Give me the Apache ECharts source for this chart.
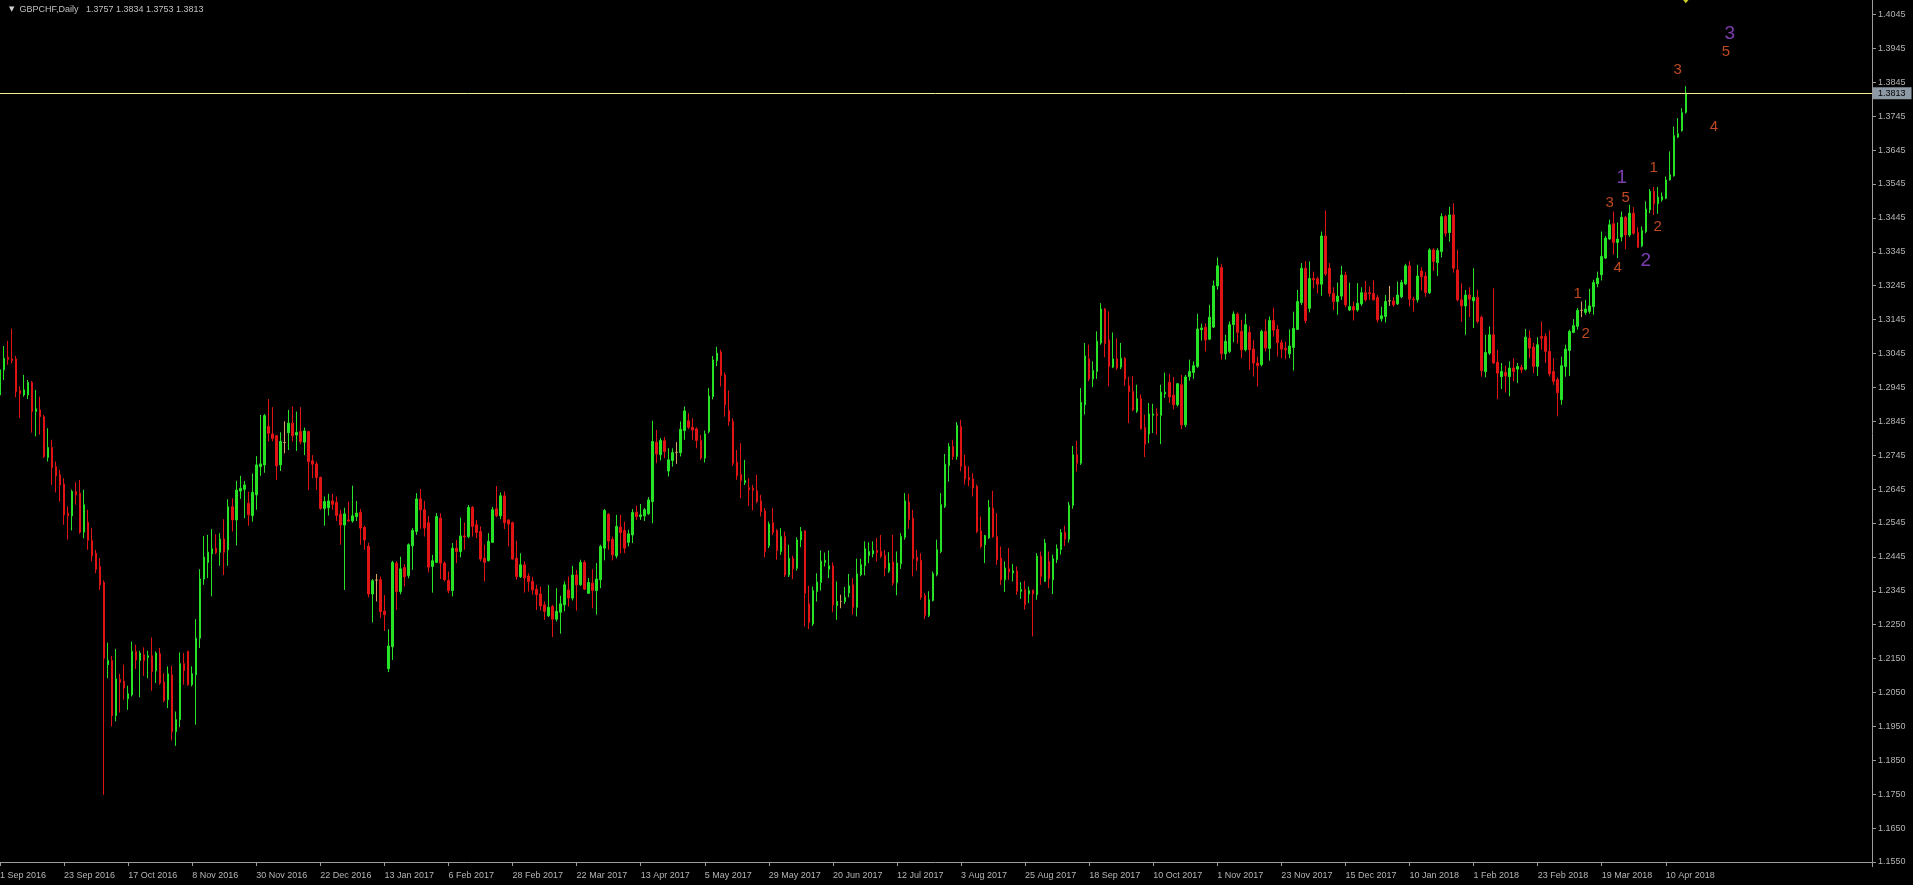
<!DOCTYPE html>
<html>
<head>
<meta charset="utf-8">
<script src="https://cdn.jsdelivr.net/npm/echarts@6/dist/echarts.min.js"></script>
<style>
html,body{margin:0;padding:0;background:#000;}
#chart{width:1913px;height:885px;}
</style>
</head>
<body>
<div id="chart"></div>
<script>
// ---------------- data ----------------
const symbolName = 'GBPCHF';
const timeframe = 'Daily';
const firstDate = '2016-09-01';
const missingDays = ['2017-12-25', '2018-01-01'];
const futureSlots = 46;
const labelEvery = 16;

const opens = [
1.2925,1.2999,1.3036,1.3031,1.3031,1.2938,1.2925,1.2925,1.2962,1.2876,
1.2881,1.2861,1.2741,1.2770,1.2714,1.2690,1.2663,1.2577,1.2569,1.2641,
1.2636,1.2521,1.2550,1.2497,1.2459,1.2420,1.2373,1.2131,1.2143,1.1981,
1.2088,1.2082,1.2031,1.2042,1.2170,1.2143,1.2160,1.2152,1.2157,1.2113,
1.2163,1.2080,1.2028,1.2101,1.1934,1.1969,1.2134,1.2170,1.2072,1.2101,
1.2209,1.2383,1.2432,1.2457,1.2474,1.2462,1.2501,1.2469,1.2596,1.2557,
1.2642,1.2647,1.2606,1.2570,1.2631,1.2714,1.2719,1.2832,1.2810,1.2805,
1.2719,1.2785,1.2814,1.2842,1.2807,1.2817,1.2786,1.2817,1.2731,1.2722,
1.2682,1.2591,1.2593,1.2613,1.2609,1.2574,1.2542,1.2557,1.2554,1.2567,
1.2579,1.2535,1.2480,1.2339,1.2380,1.2381,1.2289,1.2119,1.2184,1.2430,
1.2346,1.2417,1.2393,1.2481,1.2523,1.2619,1.2587,1.2549,1.2420,1.2432,
1.2562,1.2430,1.2379,1.2349,1.2474,1.2464,1.2510,1.2508,1.2594,1.2543,
1.2523,1.2444,1.2437,1.2491,1.2590,1.2569,1.2628,1.2557,1.2549,1.2444,
1.2390,1.2425,1.2392,1.2376,1.2353,1.2339,1.2307,1.2275,1.2302,1.2265,
1.2285,1.2307,1.2351,1.2327,1.2395,1.2366,1.2432,1.2341,1.2371,1.2349,
1.2381,1.2474,1.2574,1.2500,1.2451,1.2536,1.2526,1.2491,1.2513,1.2580,
1.2567,1.2569,1.2575,1.2611,1.2786,1.2749,1.2790,1.2701,1.2732,1.2756,
1.2755,1.2820,1.2849,1.2830,1.2825,1.2791,1.2739,1.2817,1.2920,1.3026,
1.3051,1.2984,1.2879,1.2847,1.2727,1.2690,1.2667,1.2652,1.2650,1.2643,
1.2613,1.2584,1.2481,1.2549,1.2526,1.2464,1.2508,1.2395,1.2444,1.2415,
1.2498,1.2525,1.2310,1.2251,1.2346,1.2373,1.2432,1.2412,1.2422,1.2305,
1.2317,1.2317,1.2342,1.2366,1.2300,1.2396,1.2422,1.2452,1.2457,1.2467,
1.2464,1.2453,1.2406,1.2433,1.2373,1.2428,1.2506,1.2610,1.2562,1.2447,
1.2438,1.2335,1.2276,1.2320,1.2396,1.2464,1.2597,1.2717,1.2773,1.2744,
1.2832,1.2716,1.2682,1.2678,1.2656,1.2525,1.2484,1.2504,1.2592,1.2508,
1.2445,1.2381,1.2413,1.2401,1.2407,1.2347,1.2352,1.2339,1.2350,1.2337,
1.2450,1.2376,1.2435,1.2381,1.2440,1.2470,1.2520,1.2500,1.2600,1.2749,
1.2724,1.2896,1.3031,1.2972,1.2994,1.3078,1.3178,1.3087,1.3007,1.3031,
1.3007,1.3033,1.2952,1.2935,1.2877,1.2914,1.2829,1.2810,1.2865,1.2869,
1.2865,1.2928,1.2962,1.2924,1.2896,1.2955,1.2837,1.2979,1.2991,1.3009,
1.3117,1.3124,1.3089,1.3125,1.3246,1.3300,1.3046,1.3053,1.3132,1.3163,
1.3112,1.3058,1.3109,1.3060,1.3019,1.3014,1.3112,1.3062,1.3144,1.3118,
1.3079,1.3062,1.3046,1.3065,1.3118,1.3197,1.3298,1.3180,1.3268,1.3267,
1.3251,1.3393,1.3298,1.3224,1.3200,1.3216,1.3278,1.3175,1.3185,1.3175,
1.3193,1.3226,1.3226,1.3224,1.3212,1.3149,1.3156,1.3202,1.3202,1.3193,
1.3214,1.3252,1.3305,1.3207,1.3205,1.3290,1.3275,1.3226,1.3352,1.3315,
1.3347,1.3450,1.3403,1.3455,1.3293,1.3205,1.3187,1.3219,1.3202,1.3212,
1.3154,1.2994,1.3048,1.3102,1.3021,1.2979,1.2991,1.2979,1.3004,1.3001,
1.3006,1.3001,1.3092,1.3066,1.3009,1.3097,1.3097,1.3053,1.2994,1.2970,
1.2911,1.3009,1.3056,1.3109,1.3127,1.3174,1.3168,1.3171,1.3185,1.3252,
1.3279,1.3328,1.3384,1.3429,1.3374,1.3390,1.3448,1.3396,1.3460,1.3403,
1.3364,1.3406,1.3470,1.3524,1.3488,1.3499,1.3504,1.3558,1.3570,1.3684,
1.3703,1.3757
];

const highs = [
1.3009,1.3069,1.3084,1.3120,1.3040,1.2950,1.2984,1.2969,1.2966,1.2940,
1.2920,1.2866,1.2827,1.2793,1.2729,1.2705,1.2680,1.2597,1.2646,1.2668,
1.2675,1.2646,1.2587,1.2533,1.2469,1.2445,1.2379,1.2196,1.2157,1.2177,
1.2104,1.2131,1.2069,1.2199,1.2190,1.2172,1.2182,1.2172,1.2211,1.2170,
1.2180,1.2106,1.2126,1.2128,1.1993,1.2167,1.2165,1.2172,1.2126,1.2265,
1.2412,1.2510,1.2513,1.2530,1.2515,1.2518,1.2559,1.2618,1.2621,1.2672,
1.2687,1.2672,1.2640,1.2694,1.2745,1.2866,1.2869,1.2913,1.2889,1.2807,
1.2815,1.2847,1.2881,1.2891,1.2876,1.2889,1.2829,1.2819,1.2748,1.2729,
1.2685,1.2626,1.2634,1.2634,1.2626,1.2587,1.2593,1.2611,1.2658,1.2613,
1.2589,1.2540,1.2490,1.2383,1.2398,1.2390,1.2336,1.2235,1.2437,1.2435,
1.2449,1.2427,1.2488,1.2533,1.2636,1.2648,1.2613,1.2569,1.2454,1.2577,
1.2577,1.2435,1.2405,1.2489,1.2498,1.2564,1.2549,1.2601,1.2598,1.2557,
1.2538,1.2484,1.2518,1.2595,1.2657,1.2638,1.2641,1.2559,1.2552,1.2496,
1.2459,1.2435,1.2400,1.2390,1.2366,1.2361,1.2317,1.2365,1.2307,1.2356,
1.2334,1.2376,1.2390,1.2422,1.2410,1.2440,1.2438,1.2386,1.2412,1.2430,
1.2484,1.2589,1.2577,1.2508,1.2572,1.2572,1.2552,1.2528,1.2589,1.2599,
1.2604,1.2592,1.2624,1.2849,1.2822,1.2798,1.2801,1.2768,1.2768,1.2786,
1.2847,1.2891,1.2871,1.2856,1.2830,1.2807,1.2820,1.2945,1.3040,1.3067,
1.3058,1.2991,1.2938,1.2856,1.2763,1.2783,1.2734,1.2680,1.2660,1.2690,
1.2631,1.2592,1.2552,1.2592,1.2530,1.2533,1.2523,1.2484,1.2451,1.2506,
1.2536,1.2526,1.2363,1.2361,1.2400,1.2467,1.2461,1.2467,1.2432,1.2376,
1.2337,1.2360,1.2398,1.2386,1.2443,1.2443,1.2494,1.2491,1.2494,1.2504,
1.2513,1.2469,1.2462,1.2513,1.2464,1.2518,1.2636,1.2634,1.2587,1.2469,
1.2459,1.2342,1.2347,1.2405,1.2499,1.2636,1.2751,1.2783,1.2793,1.2845,
1.2852,1.2749,1.2715,1.2695,1.2661,1.2567,1.2513,1.2616,1.2643,1.2577,
1.2479,1.2435,1.2474,1.2427,1.2420,1.2374,1.2378,1.2361,1.2352,1.2459,
1.2464,1.2501,1.2464,1.2455,1.2485,1.2530,1.2540,1.2610,1.2775,1.2790,
1.2945,1.3078,1.3073,1.3024,1.3112,1.3195,1.3181,1.3171,1.3109,1.3092,
1.3078,1.3036,1.2978,1.2981,1.2955,1.2926,1.2867,1.2901,1.2899,1.2886,
1.2955,1.2991,1.2987,1.2978,1.2960,1.2984,1.2984,1.3029,1.3024,1.3164,
1.3135,1.3136,1.3190,1.3262,1.3330,1.3310,1.3102,1.3141,1.3171,1.3168,
1.3146,1.3164,1.3127,1.3087,1.3038,1.3117,1.3148,1.3156,1.3182,1.3131,
1.3087,1.3082,1.3118,1.3170,1.3234,1.3313,1.3319,1.3318,1.3288,1.3273,
1.3406,1.3468,1.3313,1.3242,1.3256,1.3305,1.3288,1.3256,1.3200,1.3254,
1.3242,1.3261,1.3244,1.3263,1.3219,1.3185,1.3219,1.3246,1.3213,1.3259,
1.3264,1.3311,1.3319,1.3214,1.3308,1.3301,1.3288,1.3357,1.3357,1.3357,
1.3460,1.3455,1.3479,1.3489,1.3352,1.3254,1.3234,1.3242,1.3298,1.3235,
1.3158,1.3102,1.3127,1.3239,1.3058,1.3019,1.3011,1.3024,1.3033,1.3019,
1.3014,1.3119,1.3115,1.3078,1.3095,1.3141,1.3107,1.3115,1.3033,1.2977,
1.3038,1.3073,1.3117,1.3148,1.3181,1.3200,1.3205,1.3237,1.3264,1.3288,
1.3406,1.3393,1.3441,1.3465,1.3433,1.3465,1.3452,1.3485,1.3478,1.3419,
1.3421,1.3495,1.3531,1.3537,1.3537,1.3521,1.3568,1.3642,1.3715,1.3740,
1.3769,1.3834
];

const lows = [
1.2922,1.2969,1.3014,1.3018,1.2918,1.2857,1.2920,1.2913,1.2814,1.2803,
1.2808,1.2739,1.2729,1.2660,1.2638,1.2611,1.2543,1.2499,1.2526,1.2602,
1.2516,1.2503,1.2469,1.2435,1.2400,1.2351,1.1748,1.2091,1.1949,1.1964,
1.1990,1.2028,1.1998,1.2037,1.2118,1.2035,1.2098,1.2091,1.2054,1.2077,
1.2072,1.2020,1.2003,1.1908,1.1892,1.1947,1.2072,1.2069,1.2067,1.1954,
1.2180,1.2366,1.2386,1.2332,1.2456,1.2422,1.2395,1.2422,1.2523,1.2482,
1.2619,1.2562,1.2540,1.2552,1.2587,1.2687,1.2696,1.2788,1.2788,1.2675,
1.2701,1.2753,1.2763,1.2788,1.2760,1.2780,1.2748,1.2645,1.2680,1.2645,
1.2587,1.2540,1.2570,1.2587,1.2554,1.2484,1.2351,1.2552,1.2549,1.2554,
1.2484,1.2469,1.2329,1.2255,1.2317,1.2268,1.2230,1.2109,1.2145,1.2292,
1.2338,1.2361,1.2385,1.2410,1.2513,1.2531,1.2508,1.2402,1.2343,1.2430,
1.2383,1.2376,1.2341,1.2332,1.2430,1.2447,1.2469,1.2503,1.2508,1.2503,
1.2435,1.2376,1.2435,1.2489,1.2565,1.2559,1.2530,1.2479,1.2440,1.2381,
1.2386,1.2343,1.2346,1.2337,1.2292,1.2290,1.2263,1.2271,1.2212,1.2258,
1.2222,1.2288,1.2302,1.2320,1.2290,1.2363,1.2351,1.2339,1.2297,1.2278,
1.2356,1.2438,1.2469,1.2438,1.2444,1.2459,1.2459,1.2479,1.2489,1.2557,
1.2557,1.2554,1.2572,1.2547,1.2724,1.2732,1.2739,1.2685,1.2714,1.2722,
1.2744,1.2793,1.2824,1.2793,1.2768,1.2734,1.2726,1.2812,1.2912,1.3010,
1.2950,1.2861,1.2834,1.2716,1.2675,1.2621,1.2660,1.2598,1.2585,1.2606,
1.2567,1.2447,1.2474,1.2513,1.2440,1.2454,1.2389,1.2389,1.2383,1.2408,
1.2477,1.2243,1.2236,1.2245,1.2317,1.2349,1.2420,1.2386,1.2285,1.2263,
1.2297,1.2310,1.2329,1.2278,1.2273,1.2391,1.2394,1.2430,1.2447,1.2435,
1.2445,1.2391,1.2401,1.2364,1.2335,1.2413,1.2499,1.2531,1.2391,1.2407,
1.2322,1.2265,1.2271,1.2317,1.2391,1.2459,1.2592,1.2670,1.2734,1.2734,
1.2700,1.2661,1.2656,1.2626,1.2518,1.2474,1.2430,1.2501,1.2504,1.2425,
1.2366,1.2345,1.2381,1.2376,1.2337,1.2325,1.2293,1.2312,1.2214,1.2322,
1.2366,1.2376,1.2356,1.2339,1.2430,1.2455,1.2480,1.2490,1.2590,1.2700,
1.2719,1.2867,1.2965,1.2948,1.2972,1.3073,1.3036,1.2950,1.3004,1.2999,
1.3001,1.2952,1.2842,1.2877,1.2872,1.2823,1.2742,1.2783,1.2813,1.2808,
1.2780,1.2916,1.2901,1.2883,1.2891,1.2824,1.2830,1.2967,1.2972,1.3004,
1.3085,1.3053,1.3087,1.3122,1.3235,1.3029,1.3029,1.3048,1.3080,1.3076,
1.3033,1.3053,1.2999,1.2979,1.2950,1.3009,1.3053,1.3026,1.3097,1.3038,
1.3033,1.3030,1.3033,1.2997,1.3116,1.3190,1.3136,1.3168,1.3239,1.3224,
1.3217,1.3275,1.3214,1.3175,1.3161,1.3205,1.3183,1.3172,1.3144,1.3170,
1.3187,1.3200,1.3205,1.3203,1.3138,1.3141,1.3138,1.3187,1.3185,1.3190,
1.3210,1.3249,1.3185,1.3170,1.3197,1.3232,1.3214,1.3222,1.3290,1.3275,
1.3330,1.3391,1.3376,1.3285,1.3200,1.3141,1.3102,1.3154,1.3122,1.3136,
1.2979,1.2977,1.3043,1.3017,1.2913,1.2942,1.2932,1.2921,1.2965,1.2960,
1.2989,1.2997,1.3033,1.2989,1.2981,1.3058,1.3019,1.2979,1.2955,1.2862,
1.2896,1.2979,1.2981,1.3107,1.3117,1.3154,1.3161,1.3164,1.3161,1.3242,
1.3262,1.3325,1.3382,1.3338,1.3328,1.3377,1.3354,1.3390,1.3396,1.3357,
1.3360,1.3401,1.3460,1.3455,1.3458,1.3494,1.3501,1.3556,1.3568,1.3681,
1.3700,1.3753
];

const closes = [
1.2999,1.3033,1.3030,1.3026,1.2935,1.2928,1.2940,1.2962,1.2876,1.2884,
1.2861,1.2744,1.2770,1.2711,1.2687,1.2660,1.2572,1.2569,1.2641,1.2631,
1.2521,1.2602,1.2497,1.2451,1.2412,1.2366,1.2150,1.2143,1.1981,1.2089,
1.2079,1.2062,1.2045,1.2170,1.2145,1.2165,1.2143,1.2157,1.2111,1.2165,
1.2077,1.2025,1.2104,1.1934,1.1969,1.2134,1.2114,1.2072,1.2104,1.2209,
1.2383,1.2448,1.2462,1.2472,1.2461,1.2501,1.2462,1.2596,1.2557,1.2645,
1.2650,1.2660,1.2572,1.2638,1.2719,1.2722,1.2864,1.2812,1.2797,1.2716,
1.2788,1.2785,1.2842,1.2805,1.2815,1.2788,1.2819,1.2729,1.2721,1.2682,
1.2591,1.2611,1.2613,1.2603,1.2570,1.2542,1.2575,1.2554,1.2569,1.2577,
1.2533,1.2498,1.2339,1.2378,1.2380,1.2287,1.2278,1.2186,1.2432,1.2346,
1.2413,1.2390,1.2484,1.2526,1.2619,1.2587,1.2533,1.2418,1.2437,1.2567,
1.2430,1.2381,1.2349,1.2474,1.2464,1.2510,1.2507,1.2594,1.2538,1.2520,
1.2442,1.2432,1.2494,1.2587,1.2569,1.2628,1.2549,1.2545,1.2442,1.2390,
1.2425,1.2386,1.2376,1.2351,1.2337,1.2304,1.2288,1.2300,1.2265,1.2288,
1.2310,1.2366,1.2327,1.2395,1.2366,1.2432,1.2353,1.2373,1.2349,1.2383,
1.2479,1.2585,1.2495,1.2454,1.2538,1.2520,1.2474,1.2516,1.2579,1.2567,
1.2572,1.2587,1.2616,1.2788,1.2751,1.2791,1.2758,1.2734,1.2755,1.2756,
1.2824,1.2878,1.2830,1.2822,1.2791,1.2739,1.2810,1.2922,1.3028,1.3048,
1.2982,1.2896,1.2847,1.2724,1.2687,1.2673,1.2673,1.2646,1.2644,1.2611,
1.2582,1.2464,1.2545,1.2520,1.2467,1.2508,1.2395,1.2444,1.2413,1.2498,
1.2523,1.2341,1.2255,1.2349,1.2374,1.2435,1.2438,1.2422,1.2307,1.2317,
1.2317,1.2329,1.2363,1.2300,1.2398,1.2425,1.2472,1.2464,1.2467,1.2461,
1.2450,1.2415,1.2430,1.2371,1.2430,1.2508,1.2613,1.2558,1.2443,1.2437,
1.2329,1.2276,1.2322,1.2399,1.2469,1.2602,1.2721,1.2773,1.2744,1.2835,
1.2715,1.2678,1.2675,1.2651,1.2523,1.2479,1.2511,1.2594,1.2508,1.2440,
1.2381,1.2415,1.2404,1.2407,1.2347,1.2352,1.2307,1.2349,1.2339,1.2450,
1.2391,1.2489,1.2384,1.2443,1.2472,1.2520,1.2500,1.2600,1.2749,1.2724,
1.2903,1.3040,1.2972,1.2997,1.3083,1.3178,1.3076,1.3009,1.3031,1.3004,
1.3033,1.2972,1.2935,1.2881,1.2914,1.2825,1.2780,1.2869,1.2869,1.2865,
1.2933,1.2933,1.2919,1.2896,1.2958,1.2837,1.2978,1.2994,1.3011,1.3119,
1.3122,1.3087,1.3154,1.3246,1.3305,1.3046,1.3083,1.3132,1.3163,1.3109,
1.3058,1.3132,1.3058,1.3019,1.3011,1.3112,1.3063,1.3144,1.3116,1.3079,
1.3060,1.3058,1.3069,1.3121,1.3200,1.3298,1.3144,1.3268,1.3264,1.3251,
1.3393,1.3281,1.3224,1.3200,1.3216,1.3278,1.3190,1.3185,1.3175,1.3195,
1.3226,1.3205,1.3223,1.3205,1.3146,1.3158,1.3200,1.3202,1.3190,1.3219,
1.3256,1.3305,1.3207,1.3205,1.3275,1.3273,1.3226,1.3352,1.3318,1.3350,
1.3450,1.3401,1.3455,1.3298,1.3205,1.3187,1.3219,1.3207,1.3212,1.3141,
1.2997,1.3050,1.3102,1.3019,1.2989,1.2994,1.2981,1.3004,1.2994,1.3009,
1.2999,1.3095,1.3063,1.3009,1.3073,1.3092,1.3053,1.2987,1.2965,1.2932,
1.3011,1.3060,1.3112,1.3129,1.3174,1.3174,1.3178,1.3187,1.3256,1.3269,
1.3333,1.3387,1.3426,1.3374,1.3384,1.3448,1.3396,1.3460,1.3401,1.3360,
1.3409,1.3472,1.3524,1.3488,1.3507,1.3509,1.3558,1.3573,1.3688,1.3694,
1.3756,1.3813
];

// price scale tick labels, bottom to top (as printed by the terminal)
const priceTickLabels = [
'1.1550','1.1650','1.1750','1.1850','1.1950','1.2050','1.2150','1.2250',
'1.2345','1.2445','1.2545','1.2645','1.2745','1.2845','1.2945','1.3045',
'1.3145','1.3245','1.3345','1.3445','1.3545','1.3645','1.3745','1.3845',
'1.3945','1.4045'
];
const priceAxisMin = 1.1550;
const priceAxisMax = 1.4045;

const bidPrice = 1.3813;

// Elliott wave labels
const waveTexts   = ['1','2','3','4','1','5','2','1','2','3','4','5','3'];
const waveBars    = [394,396,402,404,405,406,411,413,414,419,428,431,432];
const wavePrices  = [1.3224,1.3106,1.3491,1.3298,1.3563,1.3504,1.3319,1.3594,1.3420,1.3882,1.3713,1.3934,1.3987];
const waveDegrees = ['minor','minor','minor','minor','inter','minor','inter','minor','minor','minor','minor','minor','inter'];

// arrow object at top of chart
const topMarkerBar = 421;
const topMarkerPrice = 1.4091;

// ---------------- build ----------------
const MONTHS = ['Jan','Feb','Mar','Apr','May','Jun','Jul','Aug','Sep','Oct','Nov','Dec'];
function buildCategories() {
  const out = [];
  const d = new Date(firstDate + 'T00:00:00Z');
  const total = opens.length + futureSlots;
  while (out.length < total) {
    const dow = d.getUTCDay();
    const iso = d.toISOString().slice(0, 10);
    if (dow !== 0 && dow !== 6 && missingDays.indexOf(iso) < 0) {
      out.push(d.getUTCDate() + ' ' + MONTHS[d.getUTCMonth()] + ' ' + d.getUTCFullYear());
    }
    d.setUTCDate(d.getUTCDate() + 1);
  }
  return out;
}
const categories = buildCategories();
const candleData = opens.map((o, i) => [o, closes[i], lows[i], highs[i]]);
const last = opens.length - 1;
const f4 = v => v.toFixed(4);

const UP = '#26e326', DOWN = '#e01414', DOJI = '#d9a066';
const AXIS = '#9b9b9b', LABEL = '#b4b4b4';
const FONT = 'Liberation Sans';
const waveStyle = {
  minor: { color: '#ee5a2a', fontSize: 15 },
  inter: { color: '#9b4ddb', fontSize: 19 }
};
const showTick = idx => idx % labelEvery === 0 && idx < opens.length;

const chart = echarts.init(document.getElementById('chart'), null, { renderer: 'canvas' });
chart.setOption({
  backgroundColor: '#000000',
  animation: false,
  title: {
    left: 4, top: 0,
    text: '{tri|▼}{t|' + symbolName + ',' + timeframe + '   ' +
          f4(opens[last]) + ' ' + f4(highs[last]) + ' ' + f4(lows[last]) + ' ' + f4(closes[last]) + '}',
    textStyle: {
      fontWeight: 'normal', fontSize: 9, color: '#c0c0c0',
      rich: {
        tri: { fontSize: 7, color: '#cfcfcf', fontWeight: 'normal', fontFamily: 'DejaVu Sans', padding: [0, 5, 0, 0] },
        t: { fontSize: 9, color: '#c0c0c0', fontWeight: 'normal', fontFamily: FONT }
      }
    }
  },
  grid: {
    left: -2, right: 41, top: 14.5, bottom: 23,
    containLabel: false, outerBoundsMode: 'none'
  },
  xAxis: {
    type: 'category',
    data: categories,
    boundaryGap: true,
    offset: 5,
    axisLine: { show: true, lineStyle: { color: AXIS, width: 1 } },
    axisTick: { show: true, alignWithLabel: true, interval: showTick, length: 4, lineStyle: { color: AXIS } },
    axisLabel: { interval: showTick, align: 'left', margin: 4, color: LABEL, fontSize: 9, fontFamily: FONT },
    splitLine: { show: false }
  },
  yAxis: [
    {
      type: 'value', min: priceAxisMin, max: priceAxisMax, scale: true,
      show: false, splitLine: { show: false }
    },
    {
      type: 'value', position: 'right', min: 0, max: priceTickLabels.length - 1, interval: 1,
      axisLine: { show: false },
      axisTick: { show: true, length: 4, lineStyle: { color: AXIS } },
      axisLabel: { margin: 6, color: LABEL, fontSize: 9, fontFamily: FONT, formatter: v => priceTickLabels[v] || '' },
      splitLine: { show: false }
    }
  ],
  graphic: [
    { type: 'line', silent: true, shape: { x1: 1872.5, y1: 0, x2: 1872.5, y2: 867 }, style: { stroke: AXIS, lineWidth: 1 } }
  ],
  series: [
    {
      type: 'candlestick',
      name: symbolName,
      xAxisIndex: 0, yAxisIndex: 0,
      data: candleData,
      barWidth: 2,
      itemStyle: {
        color: UP, color0: DOWN,
        borderColor: UP, borderColor0: DOWN, borderColorDoji: DOJI,
        borderWidth: 1
      },
      markLine: {
        silent: true,
        precision: 4,
        symbol: ['none', 'none'],
        data: [{ yAxis: bidPrice }],
        lineStyle: { color: '#f2f28a', width: 1, type: 'solid' },
        label: {
          show: true, position: 'end', distance: 1,
          formatter: f4(bidPrice),
          backgroundColor: '#8d99a4', color: '#000000',
          fontSize: 9, fontFamily: FONT, padding: [2, 6, 1, 5]
        },
        emphasis: { disabled: true }
      }
    },
    {
      type: 'scatter',
      xAxisIndex: 0, yAxisIndex: 0,
      clip: false,
      silent: true,
      symbolSize: 1,
      itemStyle: { color: 'rgba(0,0,0,0)' },
      data: waveTexts.map((t, i) => ({
        value: [waveBars[i], wavePrices[i]],
        label: {
          show: true, position: 'inside', formatter: t,
          color: waveStyle[waveDegrees[i]].color,
          fontSize: waveStyle[waveDegrees[i]].fontSize,
          fontFamily: FONT
        }
      }))
    },
    {
      type: 'scatter',
      xAxisIndex: 0, yAxisIndex: 0,
      clip: false, silent: true,
      symbol: 'diamond', symbolSize: [7, 9],
      itemStyle: { color: '#ffff33' },
      data: [[topMarkerBar, topMarkerPrice]]
    }
  ]
});
</script>
</body>
</html>
